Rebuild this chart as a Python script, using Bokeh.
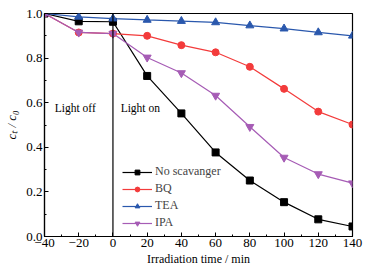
from bokeh.plotting import figure
from bokeh.models import Span, Label, Legend, LegendItem, FixedTicker, CustomJSTickFormatter
from bokeh.embed import file_html
from bokeh.resources import INLINE

time_min = [-40, -20, 0, 20, 40, 60, 80, 100, 120, 140]
no_scavenger = [1.0, 0.965, 0.963, 0.72, 0.552, 0.377, 0.251, 0.154, 0.077, 0.045]
bq = [1.0, 0.915, 0.91, 0.9, 0.858, 0.826, 0.761, 0.662, 0.56, 0.502]
tea = [1.0, 0.985, 0.977, 0.971, 0.966, 0.96, 0.946, 0.932, 0.915, 0.9]
ipa = [1.0, 0.915, 0.91, 0.803, 0.733, 0.632, 0.492, 0.354, 0.28, 0.239]
x_ticks = [-40, -20, 0, 20, 40, 60, 80, 100, 120, 140]
y_ticks = [0.0, 0.2, 0.4, 0.6, 0.8, 1.0]

FONT = "Liberation Serif"

p = figure(width=370, height=271, output_backend="svg", toolbar_location=None,
           x_range=(-40, 140), y_range=(0, 1.0),
           min_border_left=44, min_border_right=18, min_border_top=13, min_border_bottom=35)
p.grid.visible = False
p.outline_line_color = "black"
p.outline_line_width = 1.2
p.background_fill_color = "white"
p.border_fill_color = "white"

for ax in (p.xaxis[0], p.yaxis[0]):
    ax.major_tick_in = 4
    ax.major_tick_out = 0
    ax.minor_tick_in = 2
    ax.minor_tick_out = 0
    ax.axis_line_color = "black"
    ax.axis_line_width = 1.2
    ax.major_label_text_font = FONT
    ax.major_label_text_font_size = "13px"
    ax.major_label_text_color = "black"
    ax.axis_label_text_font = FONT
    ax.axis_label_text_font_size = "12px"
    ax.axis_label_text_font_style = "normal"
    ax.axis_label_text_color = "black"
    ax.major_label_standoff = 2

p.xaxis.ticker = FixedTicker(ticks=x_ticks, minor_ticks=list(range(-40, 141, 10)))
p.yaxis.ticker = FixedTicker(ticks=y_ticks, minor_ticks=[i / 10 for i in range(0, 11)])
p.yaxis.formatter = CustomJSTickFormatter(code="return tick.toFixed(1);")
p.xaxis.axis_label = "Irradiation time / min"
p.yaxis.axis_label = "cₜ / c₀"
p.yaxis.axis_label_text_font_style = "italic"
p.yaxis.axis_label_text_font_size = "13px"
p.xaxis.axis_label_standoff = 2
p.yaxis.axis_label_standoff = 4

p.add_layout(Span(location=0, dimension="height", line_color="black", line_width=1.2))

series = [
    ("No scavanger", no_scavenger, "black", "square", 7),
    ("BQ", bq, "#f33b3b", "circle", 7),
    ("TEA", tea, "#2a58ad", "triangle", 8),
    ("IPA", ipa, "#a65cb5", "inverted_triangle", 8),
]
items = []
for name, ys, col, mk, sz in series:
    l = p.line(time_min, ys, line_color=col, line_width=1.2)
    s = p.scatter(time_min, ys, marker=mk, size=sz, fill_color=col, line_color=col)
    items.append(LegendItem(label=name, renderers=[l, s]))

leg = Legend(items=items, location=(76, 4), background_fill_alpha=0, border_line_alpha=0,
             label_text_font=FONT, label_text_font_size="12px", glyph_width=30,
             glyph_height=12, spacing=2, padding=2, margin=0, label_standoff=3,
             label_height=12)
p.add_layout(leg, "center")

p.add_layout(Label(x=-34, y=0.578, text="Light off", text_font=FONT, text_font_size="11.5px",
                   text_baseline="middle", text_color="black"))
p.add_layout(Label(x=4.5, y=0.578, text="Light on", text_font=FONT, text_font_size="11.5px",
                   text_baseline="middle", text_color="black"))

open("out.html", "w").write(file_html(p, INLINE))
